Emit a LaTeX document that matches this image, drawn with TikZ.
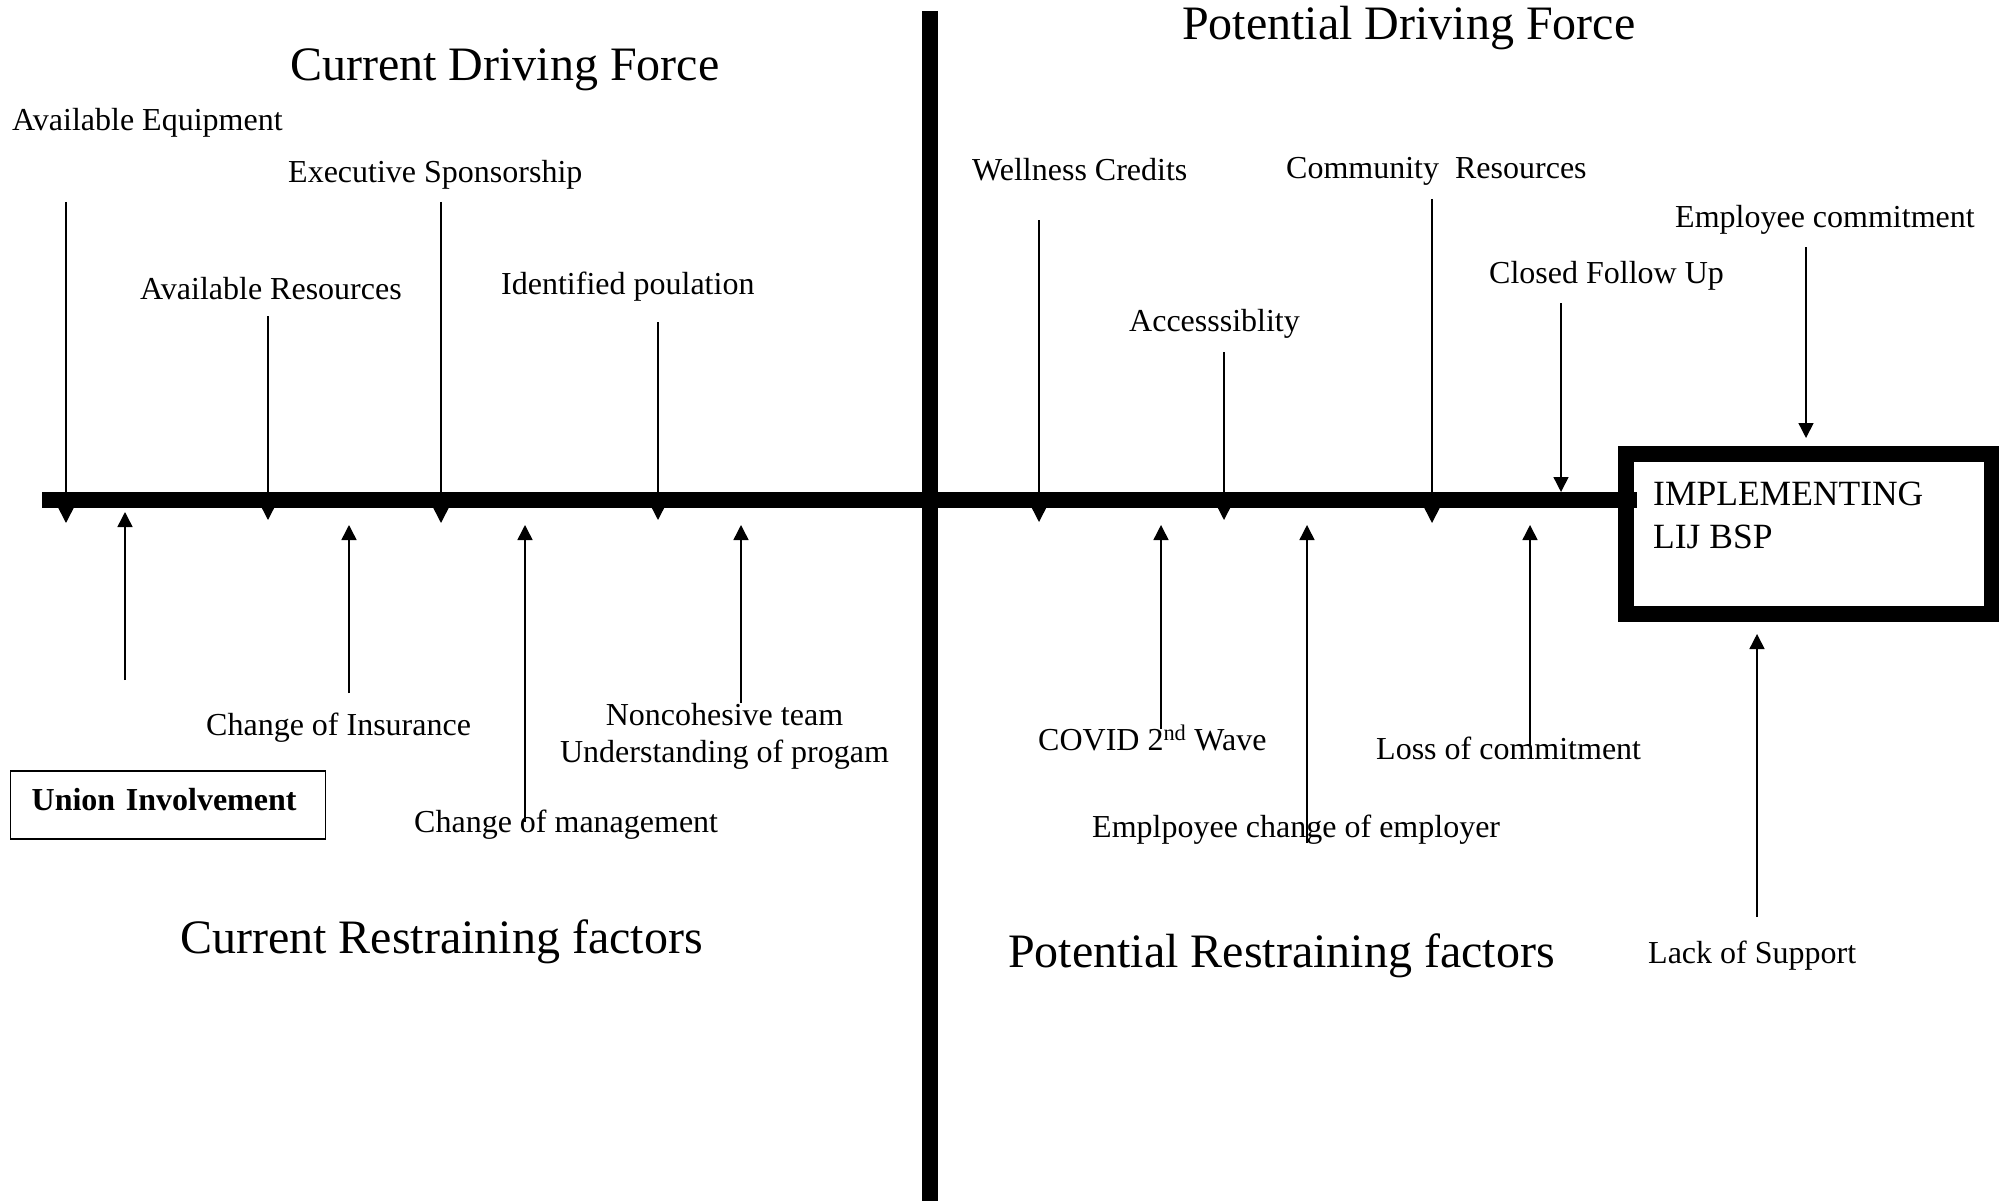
\documentclass[tikz,border=0pt]{standalone}
\usepackage{fontspec}
\setmainfont{Liberation Serif}
\usetikzlibrary{arrows.meta}
\begin{document}
\begin{tikzpicture}[x=1pt,y=-1pt,
  lbl/.style={anchor=base west, inner sep=0pt, font=\fontsize{32}{37}\selectfont},
  ttl/.style={anchor=base west, inner sep=0pt, font=\fontsize{48}{56}\selectfont},
  force/.style={line width=1.5pt, -{Triangle[width=15pt,length=15pt]}},
  bar/.style={line width=16pt}]
\useasboundingbox[fill=white] (0,0) rectangle (1999,1201);

% titles
\node[ttl] (cdf) at (290,81) {Current Driving Force};
\node[ttl] (pdf) at (1182,40) {Potential Driving Force};
\node[ttl] (crf) at (180,953) {Current Restraining factors};
\node[ttl] (prf) at (1008,967) {Potential Restraining factors};

% driving force labels
\node[lbl] (ae) at (12,131) {Available Equipment};
\node[lbl] (es) at (288,183) {Executive Sponsorship};
\node[lbl] (ar) at (140,299) {Available Resources};
\node[lbl] (ip) at (501,294) {Identified poulation};
\node[lbl] (wc) at (972,181) {Wellness Credits};
\node[lbl] (cr) at (1286,179) {Community~~Resources};
\node[lbl] (ec) at (1675,227) {Employee commitment};
\node[lbl] (cf) at (1489,283) {Closed Follow Up};
\node[lbl] (ac) at (1129,331) {Accesssiblity};

% restraining labels
\node[lbl] (ci) at (206,735) {Change of Insurance};
\node[anchor=base, inner sep=0pt, align=center, font=\fontsize{32}{37}\selectfont] (nt) at (724.5,762) {Noncohesive team\\Understanding of progam};
\node[draw, line width=1.3pt, anchor=west, inner xsep=21pt, inner ysep=0pt, text width=273pt, align=left,
      minimum height=68pt, text height=22pt, text depth=12pt, font=\fontsize{32}{37}\selectfont\bfseries] (ui) at (10,805) {Union Involvement};
\node[lbl] (cm) at (414,832) {Change of management};
\node[lbl] (cv) at (1038,750) {COVID 2\textsuperscript{nd} Wave};
\node[lbl] (lc) at (1376,759) {Loss of commitment};
\node[lbl] (ce) at (1092,837) {Emplpoyee change of employer};
\node[lbl] (ls) at (1648,963) {Lack of Support};

% goal box
\node[draw, line width=16pt, minimum width=366pt, minimum height=160pt, inner sep=0pt] (goal) at (1809,534) {};
\node[anchor=base west, inner sep=0pt, align=left, font=\fontsize{35.5}{43}\selectfont] (goaltext) at (1653,548) {IMPLEMENTING\\LIJ BSP};

% driving arrows
\foreach \n/\x/\a/\b in {d1/66/202/523, d2/268/316/520, d3/441/202/523, d4/658/322/520,
  d5/1039/220/522, d6/1224/352/520, d7/1432/199/523, d8/1561/303/492}{
  \coordinate (\n s) at (\x,\a);
  \coordinate (\n e) at (\x,\b);
  \draw[force] (\n s) -- (\n e);
}
% restraining arrows
\foreach \n/\x/\a/\b in {u1/125/680/512, u2/349/693/525, u3/525/822/525, u4/741/703/525,
  u5/1161/729/525, u6/1307/843/525, u7/1530/747/525}{
  \coordinate (\n s) at (\x,\a);
  \coordinate (\n e) at (\x,\b);
  \draw[force] (\n s) -- (\n e);
}
\coordinate (d9s) at (1806,247);
\draw[force, shorten >=8pt] (d9s) -- (d9s |- goal.north);
\coordinate (u8s) at (1757,917);
\draw[force, shorten >=12pt] (u8s) -- (u8s |- goal.south);

% main bars
\coordinate (hbl) at (42,499.5);
\coordinate (hbr) at (1637,499.5);
\coordinate (vbt) at (930,11);
\coordinate (vbb) at (930,1201);
\draw[bar] (hbl) -- (hbr);
\draw[bar] (vbt) -- (vbb);
\end{tikzpicture}
\end{document}
